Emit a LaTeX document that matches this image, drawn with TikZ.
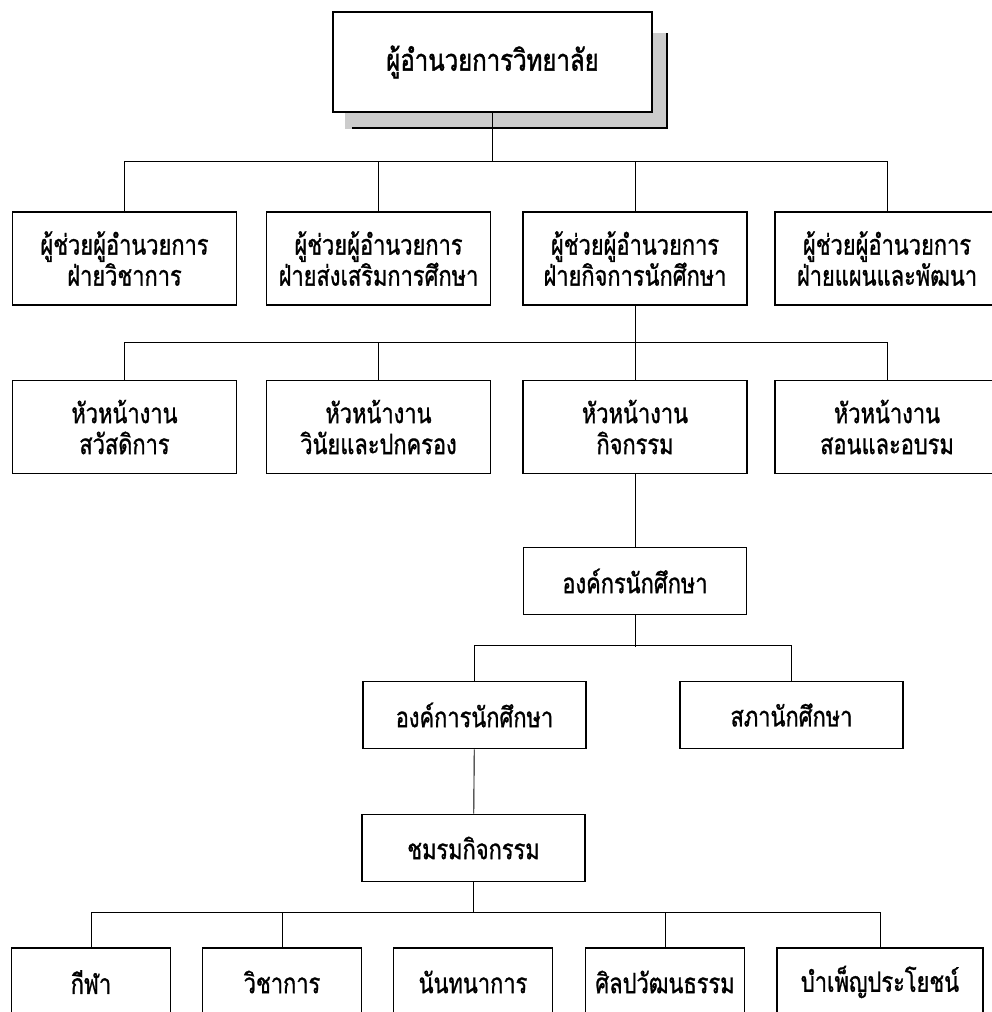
\documentclass[tikz,border=0pt]{standalone}
\usepackage{fontspec}
\newfontfamily\thaifont[Script=Thai,FakeStretch=0.78,FakeBold=1]{Loma}
\newfontfamily\thaititle[Script=Thai,FakeStretch=0.8,FakeBold=1.5]{Loma}
\usepackage{tikz}

\begin{document}
\begin{tikzpicture}[x=1pt,y=-1pt,
  box/.style={rectangle, draw=black, line width=1.8pt, inner sep=0pt, align=center,
    font={\thaifont\fontsize{28}{31}\selectfont}},
  wide/.style={box, minimum width=224pt, minimum height=93pt},
  flat/.style={box, minimum width=223pt, minimum height=67pt},
  leaf/.style={box, minimum width=159pt, minimum height=68pt},
  link/.style={draw=black, line width=0.9pt}]
\useasboundingbox (0,0) rectangle (992,1012);
% shadow of the top box
\fill[black!20] (345,112) rectangle (668,129);
\fill[black!20] (652,33) rectangle (668,129);
\draw[line width=2.5pt] (352,128) -| (667,33);
\node [box, minimum width=319pt, minimum height=100pt, fill=white,
  font={\thaititle\fontsize{30}{30}\selectfont}] (top) at (492.5,62) {ผู้อำนวยการวิทยาลัย};
% assistant directors
\node [wide] (A) at (124.5,258.5) {ผู้ช่วยผู้อำนวยการ\\ฝ่ายวิชาการ};
\node [wide] (B) at (378.5,258.5) {ผู้ช่วยผู้อำนวยการ\\ฝ่ายส่งเสริมการศึกษา};
\node [wide] (C) at (635,258.5) {ผู้ช่วยผู้อำนวยการ\\ฝ่ายกิจการนักศึกษา};
\node [wide] (D) at (887,258.5) {ผู้ช่วยผู้อำนวยการ\\ฝ่ายแผนและพัฒนา};
\draw[link] (top.south) -- (492.5,162);
\draw[link] (A.north) -- ++(0,-50) -| (D.north);
\draw[link] (B.north) -- ++(0,-50);
\draw[link] (C.north) -- ++(0,-50);
% heads of work
\node [wide] (E) at (124.5,427) {หัวหน้างาน\\สวัสดิการ};
\node [wide] (F) at (378.5,427) {หัวหน้างาน\\วินัยและปกครอง};
\node [wide] (G) at (635,427) {หัวหน้างาน\\กิจกรรม};
\node [wide] (H) at (887,427) {หัวหน้างาน\\สอนและอบรม};
\draw[link] (C.south) -- (635,345);
\draw[link] (E.north) -- ++(0,-37) -| (H.north);
\draw[link] (F.north) -- ++(0,-37);
\draw[link] (G.north) -- ++(0,-37);
% student organisation
\node [flat] (I) at (635,581) {องค์กรนักศึกษา};
\draw[link] (G) -- (I);
\node [flat] (J) at (474.5,715) {องค์การนักศึกษา};
\node [flat] (K) at (791.5,715) {สภานักศึกษา};
\draw[link] (I.south) -- (635,647);
\draw[link] (J.north) -- ++(0,-35) -| (K.north);
\node [flat] (L) at (473.5,848) {ชมรมกิจกรรม};
\draw[link] (J) -- (L);
% clubs
\node [leaf] (M) at (91,982) {กีฬา};
\node [leaf] (N) at (282,982) {วิชาการ};
\node [leaf] (O) at (473,982) {นันทนาการ};
\node [leaf] (P) at (665,982) {ศิลปวัฒนธรรม};
\node [leaf, minimum width=206pt] (Q) at (880,982) {บำเพ็ญประโยชน์};
\draw[link] (L.south) -- (473.5,913);
\draw[link] (M.north) -- ++(0,-35) -| (Q.north);
\draw[link] (N.north) -- ++(0,-35);
\draw[link] (P.north) -- ++(0,-35);
\end{tikzpicture}
\end{document}
